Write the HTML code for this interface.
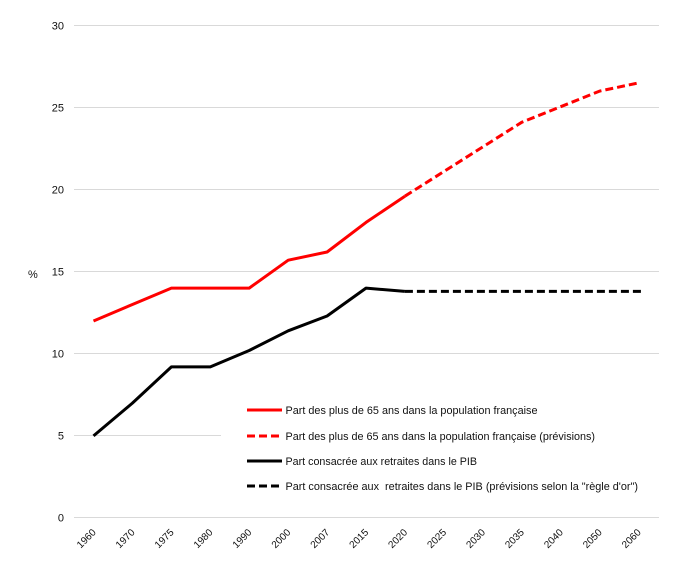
<!DOCTYPE html>
<html><head><meta charset="utf-8"><style>
html,body{margin:0;padding:0;background:#fff;}
svg{display:block;}
text{font-family:"Liberation Sans",sans-serif;fill:#111;}
</style></head><body>
<svg width="679" height="564" viewBox="0 0 679 564" xmlns="http://www.w3.org/2000/svg">
<rect width="679" height="564" fill="#fff"/>
<g stroke="#d9d9d9" stroke-width="1" shape-rendering="crispEdges">
<line x1="74" y1="25.5" x2="659" y2="25.5"/>
<line x1="74" y1="107.5" x2="659" y2="107.5"/>
<line x1="74" y1="189.5" x2="659" y2="189.5"/>
<line x1="74" y1="271.5" x2="659" y2="271.5"/>
<line x1="74" y1="353.5" x2="659" y2="353.5"/>
<line x1="74" y1="435.5" x2="659" y2="435.5"/>
<line x1="74" y1="517.5" x2="659" y2="517.5"/>
</g>
<g font-size="11" text-anchor="end">
<text x="64" y="29.5">30</text>
<text x="64" y="111.5">25</text>
<text x="64" y="193.5">20</text>
<text x="64" y="275.5">15</text>
<text x="64" y="357.5">10</text>
<text x="64" y="439.5">5</text>
<text x="64" y="521.5">0</text>
</g>
<text x="28" y="278" font-size="11">%</text>
<g font-size="10" text-anchor="end">
<text transform="translate(96.5,533) rotate(-45)">1960</text>
<text transform="translate(135.4,533) rotate(-45)">1970</text>
<text transform="translate(174.4,533) rotate(-45)">1975</text>
<text transform="translate(213.3,533) rotate(-45)">1980</text>
<text transform="translate(252.2,533) rotate(-45)">1990</text>
<text transform="translate(291.2,533) rotate(-45)">2000</text>
<text transform="translate(330.1,533) rotate(-45)">2007</text>
<text transform="translate(369,533) rotate(-45)">2015</text>
<text transform="translate(407.9,533) rotate(-45)">2020</text>
<text transform="translate(446.9,533) rotate(-45)">2025</text>
<text transform="translate(485.8,533) rotate(-45)">2030</text>
<text transform="translate(524.7,533) rotate(-45)">2035</text>
<text transform="translate(563.7,533) rotate(-45)">2040</text>
<text transform="translate(602.6,533) rotate(-45)">2050</text>
<text transform="translate(641.5,533) rotate(-45)">2060</text>
</g>
<g fill="none" stroke-width="3" stroke-linejoin="round">
<polyline stroke="#ff0000" points="93.5,321 132.4,304.5 171.4,288.1 210.3,288.1 249.2,288.1 288.2,260.2 327.1,252 366,222.4 404.9,196.2"/>
<polyline stroke="#ff0000" stroke-dasharray="8 4" points="404.9,196.2 443.9,171.5 482.8,146.9 521.7,122.3 560.7,106.7 599.6,91.1 638.5,82.9"/>
<polyline stroke="#000" points="93.5,435.9 132.4,403.1 171.4,366.9 210.3,366.9 249.2,350.5 288.2,330.8 327.1,316 366,288.1 404.9,291.4"/>
<polyline stroke="#000" stroke-dasharray="8 4" points="404.9,291.4 443.9,291.4 482.8,291.4 521.7,291.4 560.7,291.4 599.6,291.4 638.5,291.4 641,291.4"/>
</g>
<rect x="221" y="395" width="444" height="105" fill="#fff"/>
<g stroke-width="3" fill="none">
<line x1="247" y1="410" x2="282" y2="410" stroke="#ff0000"/>
<line x1="247" y1="436" x2="279" y2="436" stroke="#ff0000" stroke-dasharray="8 4"/>
<line x1="247" y1="461" x2="282" y2="461" stroke="#000"/>
<line x1="247" y1="486" x2="279" y2="486" stroke="#000" stroke-dasharray="8 4"/>
</g>
<g font-size="11" style="white-space:pre">
<text x="285.5" y="414" textLength="252" lengthAdjust="spacingAndGlyphs">Part des plus de 65 ans dans la population française</text>
<text x="285.5" y="440" textLength="309.5" lengthAdjust="spacingAndGlyphs">Part des plus de 65 ans dans la population française (prévisions)</text>
<text x="285.5" y="465" textLength="191.5" lengthAdjust="spacingAndGlyphs">Part consacrée aux retraites dans le PIB</text>
<text x="285.5" y="490" textLength="352.5" lengthAdjust="spacingAndGlyphs" xml:space="preserve">Part consacrée aux  retraites dans le PIB (prévisions selon la "règle d'or")</text>
</g>
</svg>
</body></html>
